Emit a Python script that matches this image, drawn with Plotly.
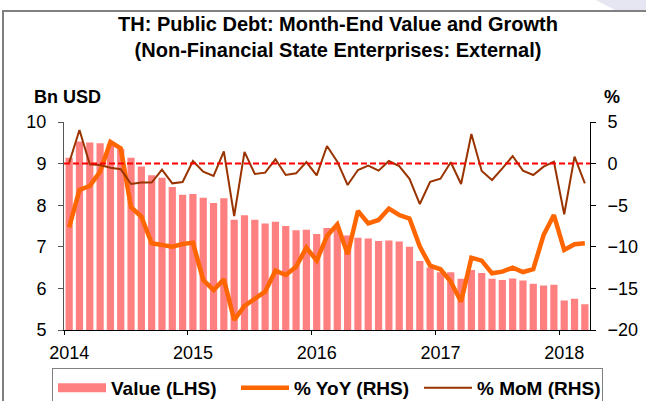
import plotly.graph_objects as go

# Monthly observations Jan 2014 .. Mar 2018 (51 months)
month_index = list(range(51))

value_bn_usd = [9.14, 9.53, 9.51, 9.49, 9.47, 9.35, 9.14, 8.93, 8.72, 8.66, 8.44, 8.25,
                8.27, 8.18, 8.05, 8.17, 7.65, 7.76, 7.65, 7.56, 7.60, 7.50, 7.40, 7.41,
                7.31, 7.45, 7.46, 7.27, 7.22, 7.20, 7.14, 7.15, 7.13, 7.00, 6.66, 6.50,
                6.39, 6.39, 6.23, 6.44, 6.37, 6.23, 6.20, 6.24, 6.19, 6.11, 6.07, 6.09,
                5.71, 5.75, 5.62]

yoy_pct = [-7.66, -3.17, -2.69, -0.97, 2.60, 1.84, -5.25, -6.38, -9.58, -9.78, -9.98, -9.66,
           -9.50, -13.99, -15.19, -13.91, -18.80, -17.10, -16.27, -15.40, -12.87, -13.39, -12.39, -10.10,
           -11.67, -8.70, -7.30, -10.90, -5.70, -7.18, -6.78, -5.41, -6.18, -6.60, -9.98, -12.27,
           -12.70, -14.19, -16.60, -11.31, -11.67, -13.19, -12.99, -12.51, -13.03, -12.70, -8.58, -6.18,
           -10.38, -9.70, -9.58]

mom_pct = [0.10, 4.04, -0.08, -0.17, -0.49, -0.68, -2.45, -2.28, -2.28, -0.72, -2.37, -2.21,
           0.31, -0.97, -1.49, 1.47, -6.30, 1.40, -1.25, -1.09, 0.52, -1.37, -1.17, 0.19,
           -1.41, 2.12, 0.23, -2.57, -0.77, -0.25, -0.85, 0.31, -0.29, -1.83, -4.86, -2.20,
           -1.81, 0.16, -2.45, 3.55, -0.89, -1.97, -0.57, 0.91, -0.85, -1.37, -0.37, 0.23,
           -6.09, 0.84, -2.37]

year_label_pos = [0, 12, 24, 36, 48]
year_labels = ["2014", "2015", "2016", "2017", "2018"]
year_boundaries = [-0.5, 11.5, 23.5, 35.5, 47.5]

FONT = "Liberation Sans, Arial, sans-serif"

fig = go.Figure()
fig.add_trace(go.Bar(x=month_index, y=value_bn_usd, name="Value (LHS)",
                     marker=dict(color="#FF8080", line=dict(width=0)), width=0.7,
                     yaxis="y", showlegend=False))
fig.add_trace(go.Scatter(x=month_index, y=yoy_pct, name="% YoY (RHS)", mode="lines",
                         line=dict(color="#FF6600", width=4.5), yaxis="y2", showlegend=False))
fig.add_trace(go.Scatter(x=month_index, y=mom_pct, name="% MoM (RHS)", mode="lines",
                         line=dict(color="#993300", width=2), yaxis="y2", showlegend=False))
# legend keys (styled like the reference's wide patch / line samples)
fig.add_trace(go.Scatter(x=[None], y=[None], name="Value (LHS)", mode="lines",
                         line=dict(color="#FF8080", width=9), yaxis="y"))
fig.add_trace(go.Scatter(x=[None], y=[None], name="% YoY (RHS)", mode="lines",
                         line=dict(color="#FF6600", width=4.5), yaxis="y2"))
fig.add_trace(go.Scatter(x=[None], y=[None], name="% MoM (RHS)", mode="lines",
                         line=dict(color="#993300", width=2), yaxis="y2"))

fig.update_layout(
    width=646, height=401,
    margin=dict(l=64, r=56, t=122, b=71, autoexpand=False),
    paper_bgcolor="white", plot_bgcolor="white",
    font=dict(family=FONT, size=18, color="black"),
    showlegend=True,
    annotations=[
        dict(text="TH: Public Debt: Month-End Value and Growth<br>(Non-Financial State Enterprises: External)",
             xref="paper", yref="paper", x=(338-64)/526, xanchor="center",
             y=(330-11)/208, yanchor="top", showarrow=False,
             font=dict(family=FONT, size=20, weight="bold")),
        dict(text="Bn USD", xref="paper", yref="paper", x=(32-64)/526, xanchor="left",
             y=(330-97)/208, yanchor="middle", showarrow=False,
             font=dict(family=FONT, size=18, weight="bold")),
        dict(text="%", xref="paper", yref="paper", x=(612-64)/526, xanchor="center",
             y=(330-97)/208, yanchor="middle", showarrow=False,
             font=dict(family=FONT, size=18, weight="bold")),
    ],
    xaxis=dict(range=[-0.5, 50.5], tickmode="array", tickvals=year_label_pos, ticktext=year_labels,
               ticks="", showgrid=False, zeroline=False, showline=True, linecolor="black", linewidth=1,
               ticklabelstandoff=6, tickfont=dict(size=18),
               minor=dict(tickmode="array", tickvals=year_boundaries, ticks="outside", ticklen=4,
                          tickcolor="black", showgrid=False)),
    yaxis=dict(range=[5, 10], dtick=1, ticks="outside", ticklen=5, tickcolor="#555555",
               showgrid=False, zeroline=False, showline=True, linecolor="#555555", linewidth=1,
               ticklabelstandoff=8, tickfont=dict(size=18)),
    yaxis2=dict(range=[-20, 5], dtick=5, overlaying="y", side="right", ticks="outside", ticklen=5,
                tickcolor="black", showgrid=False, zeroline=False, showline=True, linecolor="black",
                linewidth=1, ticklabelstandoff=8, tickfont=dict(size=18)),
    legend=dict(orientation="h", x=(52-64)/526, xanchor="left", y=(330-368)/208, yanchor="top",
                bordercolor="#808080", borderwidth=1, bgcolor="white", itemwidth=48,
                entrywidth=120, entrywidthmode="pixels",
                font=dict(family=FONT, size=19, weight="bold")),
    shapes=[
        dict(type="line", xref="x domain", x0=0, x1=1, yref="y2", y0=0, y1=0,
             line=dict(color="#FF0000", width=2, dash="6px,3px"), layer="above"),
        dict(type="rect", xref="paper", yref="paper", x0=(3-64)/526, x1=(700-64)/526,
             y0=(330-460)/208, y1=(330-11)/208, line=dict(color="#808080", width=2),
             fillcolor="rgba(0,0,0,0)", layer="below"),
        dict(type="path", xref="paper", yref="paper",
             path="M %f %f L %f %f L %f %f L %f %f Z" % ((596-64)/526, (330-0)/208,
                                                         (646-64)/526, (330-0)/208,
                                                         (646-64)/526, (330-10)/208,
                                                         (615-64)/526, (330-10)/208),
             line=dict(width=0), fillcolor="#E6E6F2", layer="below"),
    ],
)

fig.write_html("out.html", config={"displayModeBar": False},
               post_script="document.body.style.margin='0';")
